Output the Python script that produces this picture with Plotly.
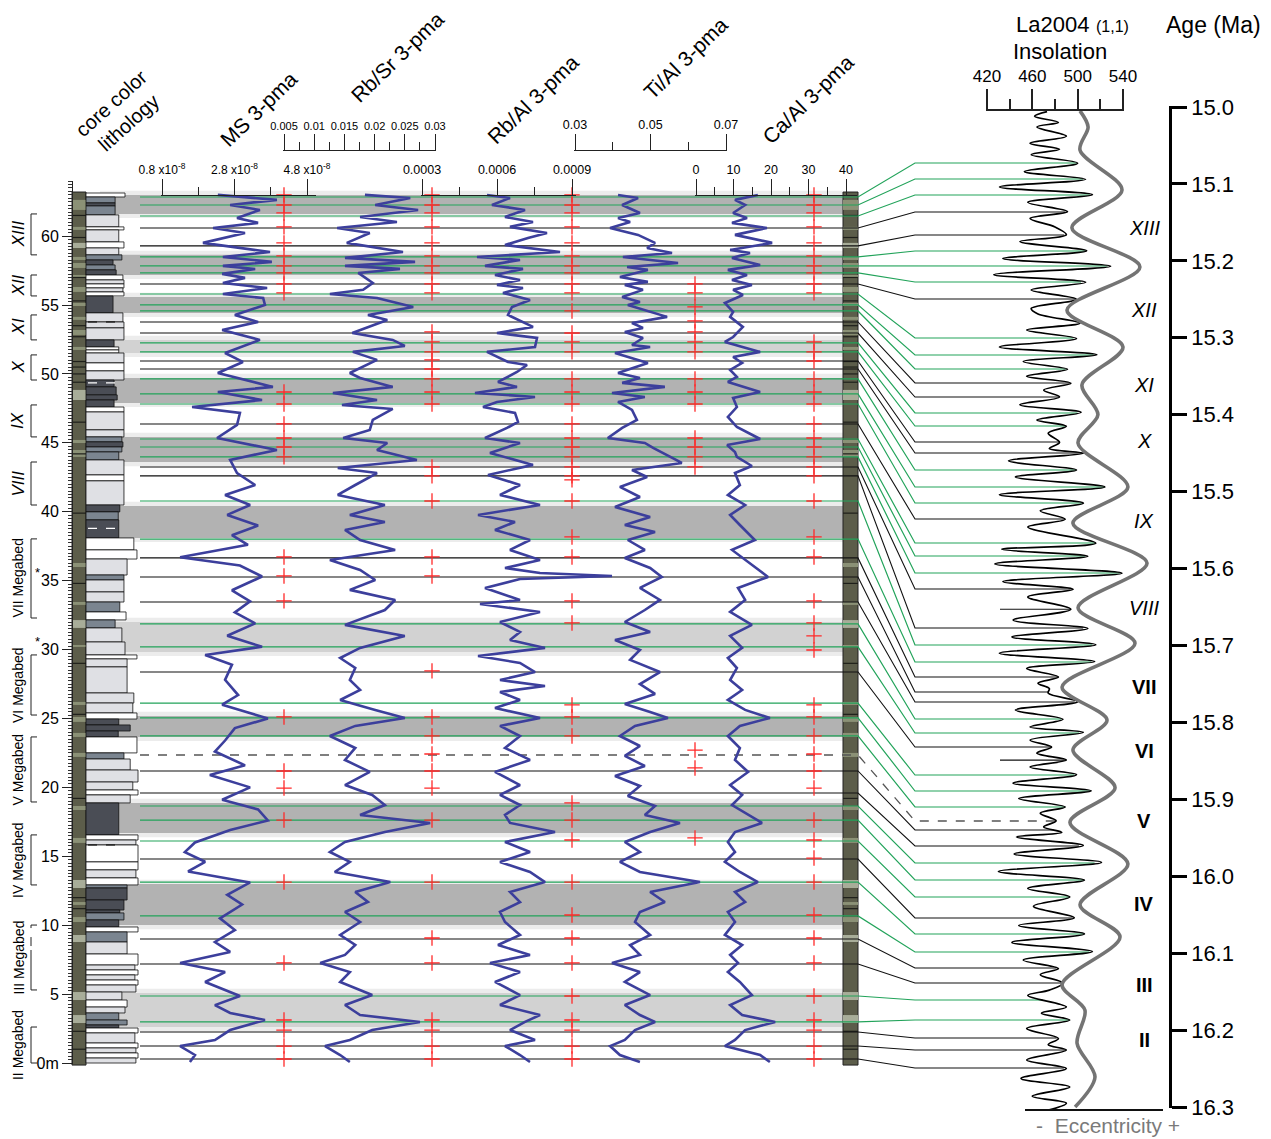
import numpy as np
import plotly.graph_objects as go

W, H = 1271, 1139

# ======================= DATA =======================
# --- proxy curves: depth (m) and value ---
ms_depth = [62.99,62.63,62.26,61.90,61.32,60.96,60.59,60.23,59.51,58.85,58.49,58.13,57.84,57.62,57.26,56.97,56.60,56.24,55.80,55.51,
            55.01,54.28,53.77,53.19,52.47,51.52,50.87,50.07,49.06,48.69,48.11,47.60,47.17,46.30,45.35,44.48,43.76,42.81,
            41.94,41.22,40.49,39.77,39.00,38.30,37.60,36.70,36.10,35.30,34.30,33.50,32.70,31.90,31.00,30.20,29.60,28.90,27.80,26.70,
            26.00,25.00,24.30,23.40,22.60,21.60,20.90,20.00,19.10,18.40,17.60,16.90,16.00,15.30,14.60,13.90,13.10,12.20,11.50,10.50,
            9.65,8.78,8.06,7.26,6.60,5.88,4.86,4.20,3.63,3.12,2.39,1.67,1.23,0.58,0.07]
ms_val = [2.34,3.97,2.68,3.50,2.87,3.45,2.21,3.09,1.93,3.78,2.48,3.83,2.48,3.37,2.46,3.09,2.48,3.70,2.48,3.59,
          3.64,2.81,3.45,2.46,3.50,2.54,3.03,2.34,3.86,2.34,3.56,1.63,2.95,2.87,2.32,3.97,2.68,2.87,
          3.37,2.54,3.23,2.60,3.45,2.73,3.17,1.30,2.95,3.56,2.73,3.23,2.81,3.37,2.60,3.56,1.99,2.73,2.54,2.90,
          2.46,3.72,2.81,2.54,2.26,3.09,2.12,3.23,2.46,3.45,3.72,2.68,1.71,1.43,1.99,1.52,3.23,2.60,3.01,2.40,
          2.81,2.26,2.68,1.30,2.54,1.99,2.95,2.26,2.68,3.64,2.68,2.26,1.30,1.71,1.57]  # x1e-8

rbsr_depth = [62.99,62.77,62.26,61.90,61.39,61.03,60.59,60.23,59.51,58.85,58.42,58.13,57.84,57.62,57.33,56.60,56.10,55.80,55.51,54.86,
              54.28,53.92,52.97,52.47,52.03,51.60,51.02,50.07,49.71,49.06,48.62,48.11,47.75,47.46,46.66,45.94,45.35,44.99,44.48,43.76,
              43.18,42.81,41.94,41.22,40.49,39.77,39.26,38.68,37.95,37.23,36.50,35.78,35.05,34.33,33.60,32.87,31.79,30.99,30.12,29.39,
              28.66,27.79,27.07,26.34,25.62,25.04,24.46,23.73,22.86,21.99,21.12,20.17,19.45,18.72,18.00,17.42,16.76,16.04,15.31,14.59,
              13.86,13.13,12.41,11.68,10.96,10.23,9.29,8.56,7.84,7.26,6.60,5.88,4.93,4.21,3.48,2.98,2.39,1.67,1.23,0.58,0.07]
rbsr_val = [0.0184,0.0259,0.0201,0.0272,0.0176,0.0237,0.0138,0.0192,0.0154,0.0247,0.0151,0.0267,0.0151,0.0242,0.0173,0.0197,0.0181,0.0126,0.0204,0.0264,
            0.0189,0.0221,0.0163,0.0230,0.0250,0.0164,0.0204,0.0159,0.0176,0.0230,0.0131,0.0204,0.0146,0.0230,0.0197,0.0192,0.0148,0.0221,0.0204,0.0270,
            0.0139,0.0204,0.0168,0.0139,0.0217,0.0159,0.0217,0.0151,0.0176,0.0234,0.0126,0.0176,0.0201,0.0159,0.0234,0.0217,0.0151,0.0250,0.0176,0.0143,
            0.0168,0.0159,0.0176,0.0143,0.0201,0.0250,0.0168,0.0126,0.0168,0.0151,0.0192,0.0151,0.0196,0.0217,0.0176,0.0292,0.0217,0.0151,0.0126,0.0159,
            0.0134,0.0226,0.0168,0.0189,0.0151,0.0176,0.0143,0.0168,0.0151,0.0110,0.0159,0.0143,0.0196,0.0151,0.0176,0.0275,0.0196,0.0159,0.0118,0.0143,0.0159]

rbal_depth = [62.99,62.77,62.26,61.90,61.39,61.03,60.67,60.23,59.87,59.36,58.85,58.49,58.27,57.84,57.62,57.18,56.82,56.46,56.24,55.88,
              55.37,54.86,54.28,53.41,52.97,52.61,51.96,51.60,50.87,50.65,50.14,49.42,49.06,48.62,48.33,47.97,47.60,47.17,46.52,46.08,
              45.35,44.99,44.27,43.40,42.67,
              41.94,41.22,40.49,39.77,39.26,38.68,37.95,37.23,36.50,35.92,35.56,35.34,35.12,34.47,33.60,33.31,32.73,32.00,31.28,30.70,
              30.12,29.53,29.03,28.37,27.79,27.36,26.92,26.34,25.76,25.04,24.46,23.73,22.86,21.99,21.12,20.17,19.45,18.72,18.00,17.42,
              16.76,16.04,15.31,14.59,13.86,13.13,12.41,11.68,10.96,10.23,9.29,8.56,7.84,7.26,6.60,5.88,4.93,4.21,3.48,2.98,
              2.39,1.67,1.23,0.58,0.07]
rbal_val = [v * 1e-4 for v in [
    5.60,6.52,5.80,7.12,6.32,7.44,6.52,8.00,7.24,6.32,8.52,5.20,6.92,5.52,7.04,5.92,6.92,6.00,7.04,6.24,
    7.32,6.60,6.44,7.44,6.00,7.60,7.52,5.60,6.44,7.20,6.80,6.04,6.80,5.12,7.52,6.00,5.44,6.72,6.84,6.40,
    5.52,6.92,5.72,7.44,5.64,
    6.92,6.12,7.72,5.24,6.72,5.92,7.32,6.52,7.72,6.32,7.72,10.6,6.92,5.52,6.92,5.32,7.72,6.12,6.92,6.52,
    7.92,5.24,6.92,7.52,6.12,7.92,6.12,6.92,5.92,7.72,6.12,6.92,6.32,7.32,5.92,6.92,6.12,6.92,6.32,6.52,
    8.32,6.32,7.32,6.12,7.32,7.92,6.52,6.92,6.12,6.32,6.92,6.04,7.32,5.72,6.92,5.92,6.92,6.12,7.72,7.12,
    6.52,7.52,6.32,6.92,7.32]]

tial_depth = [62.99,62.77,62.26,61.68,61.32,61.03,60.59,60.09,59.51,59.14,58.78,58.49,58.05,57.76,57.55,57.04,56.68,56.46,56.10,55.59,
              55.22,55.01,54.14,53.70,53.34,53.05,52.61,52.10,51.96,51.52,50.80,50.07,49.71,49.35,49.06,48.62,48.33,47.97,47.39,46.66,
              46.08,45.35,44.99,44.63,43.54,43.03,42.52,
              41.80,41.07,40.35,39.62,39.04,38.53,37.95,37.23,36.65,35.92,35.27,34.47,33.60,32.87,32.00,31.28,30.70,29.97,29.25,28.37,
              27.50,26.78,26.05,25.47,25.04,24.46,23.73,23.00,22.28,21.55,20.83,20.10,19.38,18.65,18.00,17.42,16.76,16.04,15.31,14.59,
              13.86,13.13,12.41,11.68,10.96,10.23,9.29,8.56,7.84,7.26,6.60,5.88,4.93,4.21,3.48,2.98,2.39,1.67,1.23,0.58,0.07]
tial_val = [0.0414,0.0467,0.0425,0.0472,0.0414,0.0446,0.0393,0.0467,0.0512,0.0491,0.0557,0.0427,0.0573,0.0438,0.0493,0.0419,0.0493,0.0432,0.0480,0.0425,
            0.0472,0.0440,0.0544,0.0451,0.0480,0.0432,0.0480,0.0451,0.0499,0.0406,0.0493,0.0414,0.0472,0.0425,0.0538,0.0398,0.0485,0.0414,0.0451,0.0464,
            0.0425,0.0387,0.0485,0.0507,0.0583,0.0451,0.0491,
            0.0419,0.0472,0.0406,0.0499,0.0432,0.0512,0.0440,0.0485,0.0432,0.0499,0.0530,0.0472,0.0525,0.0485,0.0432,0.0499,0.0406,0.0472,0.0446,0.0525,
            0.0472,0.0512,0.0432,0.0499,0.0546,0.0459,0.0419,0.0472,0.0432,0.0485,0.0406,0.0472,0.0440,0.0512,0.0485,0.0578,0.0499,0.0432,0.0472,0.0419,
            0.0472,0.0631,0.0499,0.0538,0.0472,0.0459,0.0499,0.0446,0.0472,0.0398,0.0472,0.0432,0.0499,0.0432,0.0472,0.0512,0.0459,0.0432,0.0393,0.0419,0.0472]

caal_depth = [62.99,62.63,62.26,61.68,61.32,60.96,60.59,60.09,59.51,59.00,58.78,58.42,57.91,57.55,57.18,56.82,56.46,56.10,55.73,55.15,
              54.50,54.14,53.41,52.68,52.32,51.60,51.23,50.80,50.29,49.78,49.42,48.69,48.26,47.60,46.88,46.15,45.28,44.85,44.34,43.98,
              43.32,42.81,
              41.94,41.22,40.49,39.77,39.04,37.95,37.23,36.50,35.27,34.47,33.60,32.73,31.79,30.99,30.12,29.39,28.66,27.79,27.07,26.34,
              25.62,25.04,24.46,23.73,22.86,21.99,21.12,20.17,19.45,18.72,18.00,17.42,16.76,16.04,15.31,14.59,13.86,13.13,12.41,11.68,
              10.96,10.23,9.29,8.56,7.84,7.26,6.60,5.88,4.93,4.21,3.48,2.98,2.39,1.67,1.23,0.58,0.07]
caal_val = [16.5,10.4,13.1,9.9,13.6,9.6,18.9,10.4,20.3,9.1,14.4,9.6,17.1,8.5,13.6,9.6,14.9,9.9,12.5,7.7,
            9.9,9.1,12.5,9.9,7.7,17.1,9.9,12.3,9.1,10.9,8.5,17.1,9.9,10.9,8.5,10.9,17.1,8.3,10.4,10.9,
            14.9,10.4,
            11.7,8.5,13.1,9.1,11.7,15.7,9.6,13.1,19.2,11.2,13.1,9.1,14.9,9.1,12.3,8.5,10.9,9.1,12.3,8.5,
            13.1,19.7,11.7,8.5,11.7,10.4,13.9,9.1,12.3,9.6,13.9,17.6,10.4,8.5,10.4,7.7,11.7,16.5,10.4,13.1,
            8.5,10.4,7.7,12.3,9.1,11.2,8.5,11.7,14.9,9.1,12.3,21.1,13.1,10.4,7.7,17.1,19.7]

# --- La2004 insolation and eccentricity vs age (Ma) ---
ins_age = [15.006,15.012,15.020,15.026,15.038,15.047,15.055,15.062,15.073,15.084,15.094,15.104,15.114,15.124,15.136,15.145,15.156,15.166,15.175,15.187,
           15.197,15.207,15.218,15.228,15.238,15.250,15.262,15.269,15.281,15.290,15.301,15.312,15.322,15.331,15.341,15.350,15.359,15.368,15.377,15.387,
           15.397,15.407,15.415,15.424,15.436,15.444,15.450,15.460,15.472,15.481,15.494,15.504,15.515,15.525,15.536,15.546,15.567,15.575,15.584,15.594,
           15.606,15.617,15.627,15.637,15.653,15.667,15.678,15.689,15.699,15.710,15.721,15.730,15.741,15.749,15.756,15.762,15.773,15.784,15.796,15.806,
           15.813,15.823,15.832,15.840,15.849,15.858,15.868,15.879,15.889,15.899,15.910,15.918,15.928,15.936,15.943,15.949,15.960,15.971,15.982,15.994,
           16.005,16.016,16.027,16.039,16.054,16.064,16.075,16.086,16.098,16.109,16.120,16.128,16.139,16.148,16.155,16.170,16.178,16.187,16.198,16.211,
           16.219,16.226,16.239,16.250,16.263,16.274,16.286,16.295,16.304]
ins_val = [473,462,483,464,490,458,484,459,500,453,507,431,513,456,491,458,480,490,449,508,
           434,529,426,507,459,499,459,465,502,455,499,431,517,452,491,455,494,470,484,449,
           503,464,490,474,484,475,505,439,499,445,524,431,505,467,489,456,516,433,509,427,
           539,434,496,456,494,443,509,442,516,431,515,455,483,465,475,474,500,445,487,458,
           505,458,477,464,490,458,499,443,512,448,489,467,481,470,486,446,505,444,521,430,
           506,456,493,461,497,448,506,442,513,452,483,467,487,475,456,490,468,493,455,483,
           474,490,455,490,450,493,460,490,474]
ecc_age = [15.005,15.026,15.056,15.108,15.157,15.208,15.264,15.312,15.361,15.400,15.437,15.494,15.541,15.593,15.651,
           15.697,15.754,15.797,15.836,15.885,15.930,15.984,16.037,16.079,16.141,16.174,16.217,16.261,16.300]
ecc_val = [0.0279,0.0320,0.0279,0.0492,0.0238,0.0583,0.0213,0.0497,0.0289,0.0370,0.0269,0.0522,0.0243,0.0619,0.0269,
           0.0558,0.0188,0.0416,0.0243,0.0457,0.0228,0.0522,0.0279,0.0482,0.0188,0.0304,0.0264,0.0355,0.0254]

# --- shaded intervals (depth m) ---
band_top = [62.99,58.64,55.59,52.47,49.71,45.43,40.42,32.00,25.18,18.87,12.99,5.08]
band_bot = [61.61,57.18,54.43,51.52,47.90,43.61,38.10,29.83,23.66,16.69,10.01,2.61]
band_shade = ['dark','dark','dark','light','dark','dark','dark','light','dark','dark','dark','light']

# --- tie points: depth (m) -> age (Ma) ---
tie_depth = [62.84,62.26,61.46,60.59,59.29,58.49,57.84,57.33,56.53,55.80,55.01,54.57,53.77,52.97,52.25,51.60,50.94,50.36,49.64,48.55,
             47.82,46.37,45.28,44.70,43.98,43.25,42.60,40.78,38.02,36.65,35.27,33.45,31.86,30.19,28.37,26.12,25.04,23.73,22.35,21.19,
             19.59,18.65,17.63,16.11,14.80,13.13,10.67,9.00,7.18,4.86,2.98,2.25,1.23,0.29]
tie_age = [15.0728,15.0936,15.1144,15.1365,15.1664,15.1872,15.2067,15.2275,15.2496,15.3003,15.3224,15.3406,15.3588,15.3770,15.3978,15.4147,15.4355,15.4498,15.4719,15.4940,
           15.5148,15.5356,15.5668,15.5837,15.6058,15.6266,15.6773,15.6994,15.7215,15.7410,15.7605,15.7735,15.7956,15.8138,15.8320,15.8684,15.8892,15.9100,15.9282,15.9399,
           15.9607,15.9828,16.0049,16.0270,16.0543,16.0751,16.0985,16.1193,16.1388,16.1609,16.1869,16.2103,16.2259,16.2493]
tie_kind = ['g','g','g','b','b','g','g','g','b','g','g','g','b','b','g','g','b','b','g','g',
            'g','b','g','g','g','b','b','g','g','b','b','b','g','g','b','g','g','g','d','b',
            'b','g','g','g','b','g','g','b','b','g','g','b','b','b']
short_tie_age = [15.653, 15.849]

# --- red + tie markers on each proxy (depth m) ---
plus_ms = [62.99,62.26,61.68,60.67,59.51,58.56,57.84,57.33,56.53,55.88,48.69,47.82,46.37,45.35,44.70,43.98,36.72,35.34,33.53,25.11,21.19,19.95,17.63,13.13,7.26,3.12,2.39,1.23,0.29]
plus_rbsr = [62.99,62.26,61.68,60.67,59.51,58.56,57.84,57.33,56.53,55.88,53.05,52.32,51.60,51.02,50.36,49.64,48.69,47.82,43.25,42.60,40.78,36.72,35.34,28.45,25.11,23.73,22.42,21.19,19.95,17.63,13.13,9.07,7.26,3.12,2.39,1.23,0.29]
plus_rbal = [62.99,62.26,61.68,60.67,59.51,58.56,57.84,57.33,56.53,55.88,54.57,52.97,52.32,51.60,49.64,48.69,47.82,46.37,45.35,44.70,43.98,43.25,42.60,42.31,40.78,38.17,36.72,33.53,31.93,25.98,25.11,23.73,18.87,17.63,16.18,13.13,10.74,9.07,7.26,4.86,3.12,2.39,1.23,0.29]
plus_tial = [56.53,55.88,54.86,53.85,53.05,52.32,51.60,49.64,48.69,47.82,45.35,44.70,43.98,43.25,22.71,21.41,16.33]
plus_caal = [62.99,62.26,61.68,60.67,59.51,58.56,57.84,57.33,56.53,55.88,52.32,51.60,50.94,49.64,48.69,47.82,46.37,45.35,44.70,43.98,43.25,42.60,40.78,38.17,36.72,33.53,31.93,30.99,29.97,25.98,25.11,23.73,22.42,21.19,19.95,17.63,16.18,14.87,13.13,10.74,9.07,7.26,4.86,3.12,2.39,1.23,0.29]

# --- lithology log: layer boundaries (m), type, relative grain width ---
lith_bounds = [63.13,62.84,62.41,62.19,61.54,60.67,60.45,59.58,59.14,58.64,58.27,57.91,57.55,57.18,56.82,56.53,56.24,55.95,55.66,54.43,
               53.77,53.34,52.47,51.96,51.74,51.52,50.80,50.22,49.56,49.06,48.48,48.11,47.60,47.24,45.94,45.43,45.07,44.70,44.34,43.76,
               42.67,42.24,40.49,39.99,39.41,38.10,37.23,36.57,35.41,35.05,34.18,33.45,32.73,32.15,31.57,30.55,29.61,29.32,28.74,26.85,
               26.12,25.40,24.96,24.53,24.09,23.66,22.50,22.06,21.26,20.39,19.81,19.45,18.87,16.55,16.18,15.82,14.59,14.01,13.43,12.92,
               12.70,11.83,11.10,10.89,10.38,9.87,9.51,8.78,7.91,7.11,6.75,6.39,6.02,5.66,5.15,4.57,4.06,3.63,3.12,2.76,
               2.54,2.18,1.45,1.09,0.73,0.36,0.00]
lith_type = list("WSDSLWLWLS" "DSDWLWLWDL" "LLDWWLWLDD" "DDWLLSDSSL" "WLDSDWWLSL"
                 "LSWSLLWLLL" "LWDDDWSLLL" "WLDWLWWLWS" "DDDSDWSLWL" "WLWLLWLSSD" "WLWLWL")
lith_grain = [0.75,0.56,0.56,0.56,0.63,0.73,0.63,0.73,0.63,0.69,0.52,0.56,0.58,0.71,0.73,0.73,0.71,0.73,0.52,0.71,
              0.73,0.73,0.54,0.63,0.63,0.73,0.73,0.73,0.54,0.58,0.60,0.54,0.73,0.73,0.73,0.69,0.71,0.69,0.63,0.73,
              0.73,0.73,0.65,0.62,0.63,0.92,0.98,0.79,0.73,0.73,0.73,0.65,0.77,0.56,0.69,0.75,0.98,0.79,0.79,0.92,
              0.90,0.98,0.63,0.85,0.62,0.98,0.73,0.85,1.00,0.90,1.00,0.85,0.63,1.00,0.96,1.00,1.00,0.96,1.00,0.79,
              0.79,0.73,0.65,0.73,0.63,1.00,0.79,0.79,1.00,0.94,1.00,0.94,1.00,0.96,0.69,0.79,0.75,0.63,0.79,0.63,
              1.00,0.94,1.00,0.96,1.00,0.96]
lith_dash_depth = [53.77, 49.35, 38.80, 15.82]
lith_dash_color = ['black', 'white', 'white', 'black']

# --- core colour column: lighter beds and dark laminae (m) ---
core_light_top = [62.63,60.67,59.51,58.49,58.05,57.18,56.31,55.15,54.14,53.19,51.96,48.84,45.21,44.48,36.28,33.45,32.14,30.33,26.20,25.11,
                  23.95,22.50,18.65,16.33,13.28,11.68,10.59,9.29,5.15,3.48]
core_light_bot = [61.90,60.45,59.14,58.27,57.69,56.97,55.95,54.93,53.92,52.83,51.74,48.11,44.99,43.98,35.99,33.24,31.57,30.19,25.98,24.75,
                  23.66,22.21,18.36,15.97,12.70,11.47,10.23,8.78,4.57,2.90]
core_light_tone = ['s','s','p','s','s','s','s','s','s','s','s','p','s','s','s','s','p','s','s','s',
                   's','s','s','s','p','s','s','p','p','p']
core_dark_lines = [61.5,59.9,57.0,55.3,53.5,52.7,50.9,50.5,50.0,49.4,46.5,44.2,39.9,34.8,29.0,25.3,19.2,12.0,11.2,2.3,1.0]

# --- megabed brackets (m) and cycle labels (Ma) ---
mb_name = ['<i>XIII</i>','<i>XII</i>','<i>XI</i>','<i>X</i>','<i>IX</i>','<i>VIII</i>',
           'VII Megabed','VI Megabed','V Megabed','IV Megabed','III Megabed','II Megabed']
mb_top = [61.61,57.18,54.28,51.38,47.75,43.61,38.03,29.61,23.66,16.55,10.01,2.61]
mb_bot = [58.64,55.66,52.47,49.56,45.43,40.49,32.29,25.25,18.94,12.92,5.30,0.00]
mb_dashed_to = [None,None,None,None,None,None,None,None,None,None,8.20,None]
asterisk_depth = [35.60, 30.62]
cycle_name = ['<i>XIII</i>','<i>XII</i>','<i>XI</i>','<i>X</i>','<i>IX</i>','<i>VIII</i>',
              '<b>VII</b>','<b>VI</b>','<b>V</b>','<b>IV</b>','<b>III</b>','<b>II</b>']
cycle_age = [15.157,15.264,15.361,15.434,15.538,15.651,15.754,15.837,15.928,16.036,16.141,16.213]

depth_ticks = [0,5,10,15,20,25,30,35,40,45,50,55,60]
depth_ticktext = ['0m','5','10','15','20','25','30','35','40','45','50','55','60']
age_ticks = [15.0,15.1,15.2,15.3,15.4,15.5,15.6,15.7,15.8,15.9,16.0,16.1,16.2,16.3]

ms_ticks, ms_ticktext, ms_minor = [0.8,2.8,4.8], ['0.8 x10<sup>-8</sup>','2.8 x10<sup>-8</sup>','4.8 x10<sup>-8</sup>'], [1.8,3.8]
rbsr_ticks = [0.005,0.01,0.015,0.02,0.025,0.03]
rbsr_ticktext = ['0.005','0.01','0.015','0.02','0.025','0.03']
rbsr_minor = [0.0075,0.0125,0.0175,0.0225,0.0275]
rbal_ticks, rbal_ticktext, rbal_minor = [0.0003,0.0006,0.0009], ['0.0003','0.0006','0.0009'], [0.00045,0.00075]
tial_ticks, tial_ticktext, tial_minor = [0.03,0.05,0.07], ['0.03','0.05','0.07'], [0.04,0.06]
caal_ticks, caal_ticktext, caal_minor = [0,10,20,30,40], ['0','10','20','30','40'], [5,15,25,35]
ins_ticks, ins_ticktext, ins_minor = [420,460,500,540], ['420','460','500','540'], [440,480,520]

# ======================= GEOMETRY (layout constants) =======================
PY_D0, PY_D64 = 1063.0, 181.0      # pixel rows of 0 m and 64 m
PY_A0, PY_A1 = 107.0, 1107.0        # pixel rows of 15.0 and 16.3 Ma

def depth_of_py(py): return 64.0 * (PY_D0 - py) / (PY_D0 - PY_D64)
def age_of_py(py): return 15.0 + 1.3 * (py - PY_A0) / (PY_A1 - PY_A0)
def py_of_age(a): return PY_A0 + (a - 15.0) * (PY_A1 - PY_A0) / 1.3
def depth_eq(a): return depth_of_py(py_of_age(a))

RUL = {
    'ms':   dict(p0=162, p1=307, v0=0.8, v1=4.8, py=195, dom=(161, 316)),
    'rbsr': dict(p0=284, p1=435, v0=0.005, v1=0.03, py=150, dom=(283, 436)),
    'rbal': dict(p0=422, p1=572, v0=0.0003, v1=0.0009, py=195, dom=(421, 576)),
    'tial': dict(p0=575, p1=726, v0=0.03, v1=0.07, py=150, dom=(574, 727)),
    'caal': dict(p0=696, p1=846, v0=0.0, v1=40.0, py=195, dom=(695, 857)),
    'ins':  dict(p0=987, p1=1123, v0=420.0, v1=540.0, py=110, dom=(986, 1124)),
    'ecc':  dict(p0=1025, p1=1163, v0=0.0, v1=0.07, py=1110, dom=(1025, 1163)),
}
def v_at(r, px): return r['v0'] + (px - r['p0']) * (r['v1'] - r['v0']) / (r['p1'] - r['p0'])
def px_at(r, v): return r['p0'] + (v - r['v0']) * (r['p1'] - r['p0']) / (r['v1'] - r['v0'])

LITH_X0, LITH_W = 86, 52
CORE_L, CORE_R = (72, 86), (843, 858)
BAND_X = (100, 843)
LINE_X0, LINE_X1, KNEE_X = 140, 858, 915
PLUS_X = dict(ms=284, rbsr=432, rbal=572, tial=695, caal=814)

FONT = 'Liberation Sans, Arial, Helvetica, sans-serif'
BLUE = '#3c3f9c'
GREEN = '#22a35a'

fig = go.Figure()
shapes = []
ann = []

# ---------------- shapes: bands, core columns, lithology ----------------
for t, b, s in zip(band_top, band_bot, band_shade):
    shapes.append(dict(type='rect', xref='x', yref='y', x0=BAND_X[0], x1=BAND_X[1], y0=b - 0.3, y1=t + 0.3,
                       fillcolor='#ececec', line=dict(width=0), layer='below'))
for t, b, s in zip(band_top, band_bot, band_shade):
    shapes.append(dict(type='rect', xref='x', yref='y', x0=BAND_X[0], x1=BAND_X[1], y0=b, y1=t,
                       fillcolor='#b2b2b2' if s == 'dark' else '#d2d2d2', line=dict(width=0), layer='below'))
for cx in (CORE_L, CORE_R):
    shapes.append(dict(type='rect', xref='x', yref='y', x0=cx[0], x1=cx[1], y0=-0.15, y1=63.2,
                       fillcolor='#5c5d4a', line=dict(color='#222', width=1), layer='below'))
    for t, b, tone in zip(core_light_top, core_light_bot, core_light_tone):
        shapes.append(dict(type='rect', xref='x', yref='y', x0=cx[0], x1=cx[1], y0=b, y1=t,
                           fillcolor='#a8ad99' if tone == 'p' else '#8b9176', line=dict(width=0), layer='below'))
    for d in core_dark_lines:
        shapes.append(dict(type='line', xref='x', yref='y', x0=cx[0], x1=cx[1], y0=d, y1=d,
                           line=dict(color='#1e1f1a', width=1.2), layer='below'))
LITH_COL = {'W': '#ffffff', 'L': '#dfe0e4', 'S': '#7b8590', 'D': '#4a4d55'}
for i, (tp, g) in enumerate(zip(lith_type, lith_grain)):
    shapes.append(dict(type='rect', xref='x', yref='y', x0=LITH_X0, x1=LITH_X0 + g * LITH_W,
                       y0=lith_bounds[i + 1], y1=lith_bounds[i], fillcolor=LITH_COL[tp],
                       line=dict(color='#111', width=0.8), layer='below'))
for d, c in zip(lith_dash_depth, lith_dash_color):
    shapes.append(dict(type='line', xref='x', yref='y', x0=LITH_X0 + 2, x1=LITH_X0 + 0.72 * LITH_W, y0=d, y1=d,
                       line=dict(color=c, width=1.2, dash='dash'), layer='below'))

# ---------------- tie lines ----------------
def tie_path(d, a):
    a_d = depth_eq(a)
    xe = px_at(RUL['ins'], float(np.interp(a, ins_age, ins_val)))
    return [LINE_X0, LINE_X1, KNEE_X, xe, None], [d, d, a_d, a_d, None]

for kind, col, dash, wid in (('g', GREEN, 'solid', 1.2), ('b', '#111111', 'solid', 1.1), ('d', '#555555', 'dash', 1.3)):
    xs, ys = [], []
    for d, a, k in zip(tie_depth, tie_age, tie_kind):
        if k == kind:
            px_, py_ = tie_path(d, a)
            xs += px_; ys += py_
    fig.add_trace(go.Scatter(x=xs, y=ys, mode='lines', line=dict(color=col, width=wid, dash=dash),
                             xaxis='x', yaxis='y', hoverinfo='skip', showlegend=False))
xs, ys = [], []
for a in short_tie_age:
    xs += [1000, px_at(RUL['ins'], float(np.interp(a, ins_age, ins_val))), None]
    ys += [a, a, None]
fig.add_trace(go.Scatter(x=xs, y=ys, mode='lines', line=dict(color='#111', width=1.1),
                         xaxis='x', yaxis='y2', hoverinfo='skip', showlegend=False))

# ---------------- proxy curves ----------------
for xa, dd, vv in (('x2', ms_depth, ms_val), ('x3', rbsr_depth, rbsr_val), ('x4', rbal_depth, rbal_val),
                   ('x5', tial_depth, tial_val), ('x6', caal_depth, caal_val)):
    fig.add_trace(go.Scatter(x=vv, y=dd, mode='lines', line=dict(color=BLUE, width=2.6),
                             xaxis=xa, yaxis='y', hoverinfo='skip', showlegend=False))

# ---------------- insolation & eccentricity ----------------
fig.add_trace(go.Scatter(x=ecc_val, y=ecc_age, mode='lines', line=dict(color='#747474', width=3.6, shape='spline', smoothing=0.9),
                         xaxis='x8', yaxis='y2', hoverinfo='skip', showlegend=False))
fig.add_trace(go.Scatter(x=ins_val, y=ins_age, mode='lines', line=dict(color='#000000', width=1.7, shape='spline', smoothing=1.0),
                         xaxis='x7', yaxis='y2', hoverinfo='skip', showlegend=False))

# ---------------- red tie crosses ----------------
for key, dl in (('ms', plus_ms), ('rbsr', plus_rbsr), ('rbal', plus_rbal), ('tial', plus_tial), ('caal', plus_caal)):
    fig.add_trace(go.Scatter(x=[PLUS_X[key]] * len(dl), y=dl, mode='markers',
                             marker=dict(symbol='cross-thin', size=11, line=dict(color='#ff2a2a', width=1.3)),
                             xaxis='x', yaxis='y', hoverinfo='skip', showlegend=False))

# ---------------- megabed brackets ----------------
bx, by, dx, dy = [], [], [], []
for t, b, dto in zip(mb_top, mb_bot, mb_dashed_to):
    if dto is None:
        bx += [37, 31, 31, 37, None]; by += [t, t, b, b, None]
    else:
        dx += [37, 31, 31, None]; dy += [t, t, dto, None]
        bx += [31, 31, 37, None]; by += [dto, b, b, None]
fig.add_trace(go.Scatter(x=bx, y=by, mode='lines', line=dict(color='#222', width=1), xaxis='x', yaxis='y',
                         hoverinfo='skip', showlegend=False))
fig.add_trace(go.Scatter(x=dx, y=dy, mode='lines', line=dict(color='#222', width=1, dash='dash'), xaxis='x', yaxis='y',
                         hoverinfo='skip', showlegend=False))

# ---------------- dummy traces so ruler axes get drawn ----------------
for xa in ('x9', 'x10', 'x11', 'x12', 'x13', 'x14', 'x15'):
    fig.add_trace(go.Scatter(x=[None], y=[None], xaxis=xa, yaxis='y', hoverinfo='skip', showlegend=False))
for ya in ('y3', 'y4'):
    fig.add_trace(go.Scatter(x=[None], y=[None], xaxis='x', yaxis=ya, hoverinfo='skip', showlegend=False))

# ---------------- axes ----------------
hidden = dict(visible=False, showgrid=False, zeroline=False, fixedrange=True, automargin=False)
lay = dict(template='none', width=W, height=H, margin=dict(l=0, r=0, t=0, b=0, pad=0, autoexpand=False),
           paper_bgcolor='white', plot_bgcolor='rgba(0,0,0,0)', showlegend=False,
           font=dict(family=FONT, color='black'))
lay['xaxis'] = dict(hidden, domain=[0, 1], range=[0, W], anchor='y')
lay['yaxis'] = dict(hidden, domain=[0, 1], range=[depth_of_py(H), depth_of_py(0)], anchor='x')
lay['yaxis2'] = dict(hidden, overlaying='y', range=[age_of_py(H), age_of_py(0)], anchor='x')
for n, key in zip((2, 3, 4, 5, 6, 7, 8), ('ms', 'rbsr', 'rbal', 'tial', 'caal', 'ins', 'ecc')):
    r = RUL[key]
    lay['xaxis%d' % n] = dict(hidden, overlaying='x', range=[v_at(r, 0), v_at(r, W)], anchor='y')

def ruler(key, majors, labels, minors, lw=1.0, tl=16, ml=8, fs=12.5):
    r = RUL[key]
    a, b = r['dom']
    return dict(domain=[a / W, b / W], range=[v_at(r, a), v_at(r, b)], anchor='free', position=1 - r['py'] / H,
                side='top', showline=True, linecolor='#222', linewidth=lw, showgrid=False, zeroline=False, fixedrange=True,
                automargin=False, ticks='outside', ticklen=tl, tickwidth=lw, tickcolor='#222', tickmode='array',
                tickvals=majors, ticktext=labels, tickfont=dict(size=fs, color='black', family=FONT),
                minor=dict(tickmode='array', tickvals=minors, ticks='outside', ticklen=ml, tickwidth=lw,
                           tickcolor='#222', showgrid=False))

lay['xaxis9'] = ruler('ms', ms_ticks, ms_ticktext, ms_minor, fs=12)
lay['xaxis10'] = ruler('rbsr', rbsr_ticks, rbsr_ticktext, rbsr_minor, fs=11)
lay['xaxis11'] = ruler('rbal', rbal_ticks, rbal_ticktext, rbal_minor)
lay['xaxis12'] = ruler('tial', tial_ticks, tial_ticktext, tial_minor)
lay['xaxis13'] = ruler('caal', caal_ticks, caal_ticktext, caal_minor)
lay['xaxis14'] = ruler('ins', ins_ticks, ins_ticktext, ins_minor, lw=2, tl=20, ml=10, fs=17)
re_ = RUL['ecc']
lay['xaxis15'] = dict(domain=[re_['dom'][0] / W, re_['dom'][1] / W], range=[re_['v0'], re_['v1']], anchor='free',
                      position=1 - re_['py'] / H, side='bottom', showline=True, linecolor='#111', linewidth=2,
                      ticks='', showticklabels=False, showgrid=False, zeroline=False, fixedrange=True, automargin=False)
# age ruler
lay['yaxis3'] = dict(domain=[1 - (PY_A1 + 1) / H, 1 - (PY_A0 - 1) / H], range=[age_of_py(PY_A1 + 1), age_of_py(PY_A0 - 1)],
                     anchor='free', position=1170 / W, side='right', showline=True, linecolor='black', linewidth=2.5,
                     ticks='outside', ticklen=15, tickwidth=2.5, tickcolor='black', tickmode='array', tickvals=age_ticks,
                     ticktext=['%.1f' % a for a in age_ticks], tickfont=dict(size=22, color='black', family=FONT),
                     showgrid=False, zeroline=False, fixedrange=True, automargin=False)
# depth ruler
lay['yaxis4'] = dict(domain=[1 - (PY_D0 + 0.5) / H, 1 - PY_D64 / H], range=[depth_of_py(PY_D0 + 0.5), 64.0],
                     anchor='free', position=72 / W, side='left', showline=True, linecolor='#222', linewidth=1,
                     ticks='outside', ticklen=10, tickwidth=1, tickcolor='#222', tickmode='array', tickvals=depth_ticks,
                     ticktext=depth_ticktext, tickfont=dict(size=16, color='black', family=FONT),
                     minor=dict(dtick=0.25, tick0=0, ticks='outside', ticklen=4, tickwidth=0.8, tickcolor='#333', showgrid=False),
                     showgrid=False, zeroline=False, fixedrange=True, automargin=False)

# ---------------- annotations ----------------
def P(px, py, text, size=19, angle=0, color='black', xanchor='center', yanchor='middle'):
    return dict(x=px / W, y=1 - py / H, xref='paper', yref='paper', text=text, showarrow=False, textangle=angle,
                font=dict(size=size, color=color, family=FONT), xanchor=xanchor, yanchor=yanchor)

ann.append(P(120, 113, 'core color<br>lithology', 20, -42))
ann.append(P(258, 109, 'MS 3-pma', 21, -44))
ann.append(P(398, 57, 'Rb/Sr 3-pma', 21, -44))
ann.append(P(533, 100, 'Rb/Al 3-pma', 21, -44))
ann.append(P(685, 58, 'Ti/Al 3-pma', 21, -44))
ann.append(P(808, 100, 'Ca/Al 3-pma', 21, -44))
ann.append(P(1052, 25, 'La2004', 22))
ann.append(P(1112, 27, '(1,1)', 16))
ann.append(P(1060, 52, 'Insolation', 22))
ann.append(P(1213, 25, 'Age (Ma)', 23))
ann.append(P(1108, 1125, '-  Eccentricity +', 21, 0, '#7a7a7a'))

for name, t, b in zip(mb_name, mb_top, mb_bot):
    italic = name.startswith('<i>')
    ann.append(dict(x=18, y=(t + b) / 2, xref='x', yref='y', text=name, showarrow=False, textangle=-90,
                    xanchor='center', yanchor='middle',
                    font=dict(size=17 if italic else 14, color='black', family=FONT)))
for d in asterisk_depth:
    ann.append(dict(x=37, y=d, xref='x', yref='y', text='*', showarrow=False, xanchor='center', yanchor='middle',
                    font=dict(size=13, color='black', family=FONT)))
for name, a in zip(cycle_name, cycle_age):
    ann.append(dict(x=1144 / W, y=a, xref='paper', yref='y2', text=name, showarrow=False,
                    xanchor='center', yanchor='middle', font=dict(size=20, color='black', family=FONT)))

lay['shapes'] = shapes
lay['annotations'] = ann
fig.update_layout(**lay)

fig.write_html("out.html", config={'displayModeBar': False},
               post_script="document.body.style.margin='0px';document.body.style.overflow='hidden';")
